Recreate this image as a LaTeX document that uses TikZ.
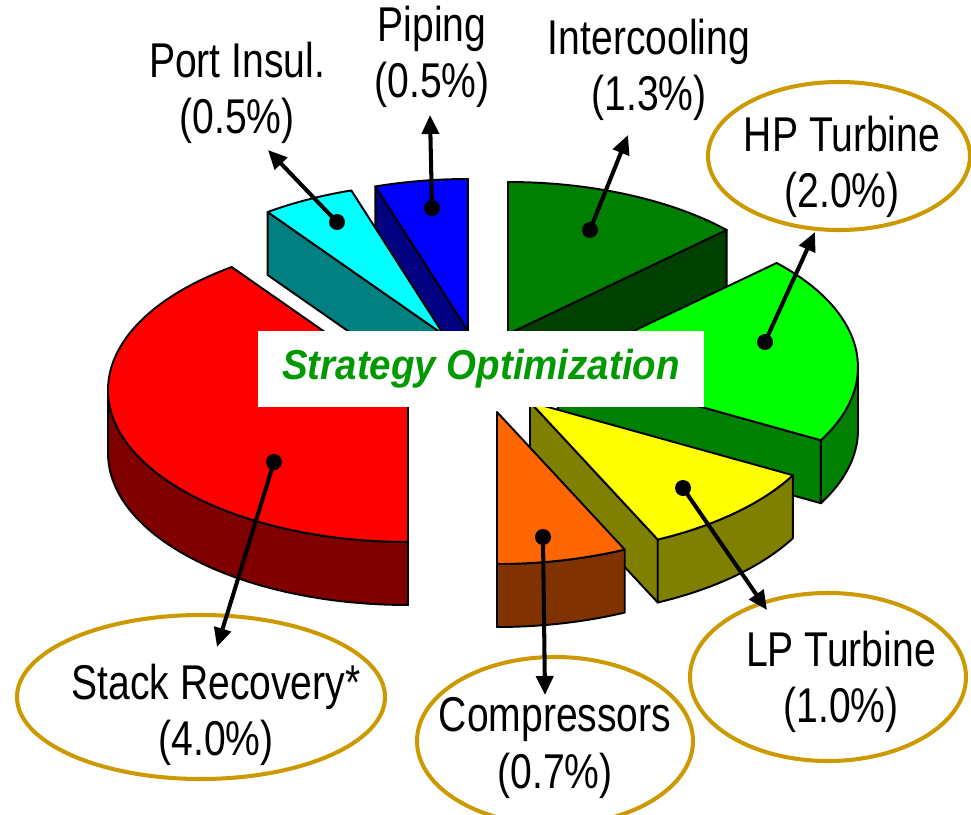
\documentclass[tikz,border=0pt]{standalone}
\usepackage{fontspec}
\usepackage{tikz}
\usetikzlibrary{arrows.meta,calc}
\newfontfamily\lblfont[FakeStretch=0.8]{Liberation Sans}
\newfontfamily\ttlfont[FakeStretch=0.92]{Liberation Sans}
\definecolor{inttop}{HTML}{008000}
\definecolor{intside}{HTML}{004000}
\definecolor{hptop}{HTML}{00FF00}
\definecolor{hpside}{HTML}{008000}
\definecolor{piptop}{HTML}{0000FF}
\definecolor{pipside}{HTML}{000080}
\definecolor{portop}{HTML}{00FFFF}
\definecolor{porside}{HTML}{008080}
\definecolor{statop}{HTML}{FF0000}
\definecolor{staside}{HTML}{800000}
\definecolor{lptop}{HTML}{FFFF00}
\definecolor{lpside}{HTML}{808000}
\definecolor{comtop}{HTML}{FF6600}
\definecolor{comside}{HTML}{803300}
\definecolor{oro}{HTML}{CC9900}
\definecolor{verde}{HTML}{009900}
\tikzset{
  cara/.style={draw=black,line width=1.1pt,line join=round},
  rim/.style={x radius=300,y radius=152},
  punto/.style={circle,fill=black,inner sep=0pt,minimum size=0.32cm},
  flecha/.style={draw=black,line width=2.3pt,-{Triangle[length=3.8mm,width=3.4mm]}},
  etiqueta/.style={align=center,inner sep=0pt,font=\lblfont\fontsize{27.8pt}{32pt}\selectfont},
  ovalo/.style={draw=oro,line width=2.3pt},
  rotulo/.style={fill=white,inner sep=0pt,minimum width=8.92cm,minimum height=1.52cm,text=verde,font=\ttlfont\bfseries\itshape\fontsize{23.8pt}{28pt}\selectfont},
}
\begin{document}
\begin{tikzpicture}[x=0.02cm,y=0.02cm]
\useasboundingbox (0,0) rectangle (971,-815);
\coordinate (cint) at (508,-334);
\coordinate (chp) at (558,-367);
\coordinate (cpip) at (468,-331);
\coordinate (cpor) at (444,-335);
\coordinate (csta) at (408,-390);
\coordinate (clp) at (530,-402);
\coordinate (ccom) at (497,-412);
\draw[cara,fill=intside] (cint) -- ($(cint)+(43.2:300 and 152)$) -- ++(0,-63) -- ($(cint)+(0,-63)$) -- cycle;
\draw[cara,fill=inttop] (cint) -- ($(cint)+(43.2:300 and 152)$) arc[rim,start angle=43.2,end angle=90] -- cycle;
\draw[cara,fill=hpside] (chp) -- ($(chp)+(331.2:300 and 152)$) -- ++(0,-63) -- ($(chp)+(0,-63)$) -- cycle;
\draw[cara,fill=hpside] ($(chp)+(331.2:300 and 152)$) arc[rim,start angle=331.2,end angle=360] -- ++(0,-63) arc[rim,start angle=360,end angle=331.2] -- cycle;
\draw[cara,fill=hptop] (chp) -- ($(chp)+(331.2:300 and 152)$) arc[rim,start angle=331.2,end angle=403.2] -- cycle;
\draw[cara,fill=pipside] (cpip) -- ($(cpip)+(108:300 and 152)$) -- ++(0,-63) -- ($(cpip)+(0,-63)$) -- cycle;
\draw[cara,fill=piptop] (cpip) -- ($(cpip)+(90:300 and 152)$) arc[rim,start angle=90,end angle=108] -- cycle;
\draw[cara,fill=porside] (cpor) -- ($(cpor)+(126:300 and 152)$) -- ++(0,-63) -- ($(cpor)+(0,-63)$) -- cycle;
\draw[cara,fill=portop] (cpor) -- ($(cpor)+(108:300 and 152)$) arc[rim,start angle=108,end angle=126] -- cycle;
\draw[cara,fill=staside] ($(csta)+(180:300 and 152)$) arc[rim,start angle=180,end angle=270] -- ++(0,-63) arc[rim,start angle=270,end angle=180] -- cycle;
\draw[cara,fill=statop] (csta) -- ($(csta)+(126:300 and 152)$) arc[rim,start angle=126,end angle=270] -- cycle;
\draw[cara,fill=lpside] (clp) -- ($(clp)+(295.2:300 and 152)$) -- ++(0,-63) -- ($(clp)+(0,-63)$) -- cycle;
\draw[cara,fill=lpside] ($(clp)+(295.2:300 and 152)$) arc[rim,start angle=295.2,end angle=331.2] -- ++(0,-63) arc[rim,start angle=331.2,end angle=295.2] -- cycle;
\draw[cara,fill=lptop] (clp) -- ($(clp)+(295.2:300 and 152)$) arc[rim,start angle=295.2,end angle=331.2] -- cycle;
\draw[cara,fill=comside] ($(ccom)+(270:300 and 152)$) arc[rim,start angle=270,end angle=295.2] -- ++(0,-63) arc[rim,start angle=295.2,end angle=270] -- cycle;
\draw[cara,fill=comtop] (ccom) -- ($(ccom)+(270:300 and 152)$) arc[rim,start angle=270,end angle=295.2] -- cycle;
\node[rotulo] (titulo) at (481,-369) {Strategy Optimization};
\node[etiqueta] (por) at (237,-93) {Port Insul.\\(0.5\%)};
\node[etiqueta] (pip) at (432,-57) {Piping\\(0.5\%)};
\node[etiqueta] (int) at (649,-70) {Intercooling\\(1.3\%)};
\node[etiqueta] (hp) at (842,-167) {HP Turbine\\(2.0\%)};
\node[etiqueta] (sta) at (216,-715) {Stack Recovery*\\(4.0\%)};
\node[etiqueta] (com) at (555,-748) {Compressors\\(0.7\%)};
\node[etiqueta] (lp) at (841,-682) {LP Turbine\\(1.0\%)};
\draw[ovalo] (839,-156) ellipse [x radius=131,y radius=74];
\draw[ovalo] (201,-697) ellipse [x radius=184,y radius=82];
\draw[ovalo] (555,-741) ellipse [x radius=138,y radius=84];
\draw[ovalo] (828,-677) ellipse [x radius=138,y radius=84];
\node[punto] (pordot) at (337,-222) {};
\node[punto] (pipdot) at (432,-208) {};
\node[punto] (intdot) at (590,-230) {};
\node[punto] (hpdot) at (765,-342) {};
\node[punto] (stadot) at (274,-462) {};
\node[punto] (comdot) at (543,-537) {};
\node[punto] (lpdot) at (683,-488) {};
\coordinate (portip) at (268,-150);
\coordinate (piptip) at (430,-115);
\coordinate (inttip) at (628,-135);
\coordinate (hptip) at (815,-232);
\coordinate (statip) at (217,-647);
\coordinate (comtip) at (545,-695);
\coordinate (lptip) at (767,-610);
\draw[flecha] (pordot.center) -- (portip);
\draw[flecha] (pipdot.center) -- (piptip);
\draw[flecha] (intdot.center) -- (inttip);
\draw[flecha] (hpdot.center) -- (hptip);
\draw[flecha] (stadot.center) -- (statip);
\draw[flecha] (comdot.center) -- (comtip);
\draw[flecha] (lpdot.center) -- (lptip);
\end{tikzpicture}
\end{document}
